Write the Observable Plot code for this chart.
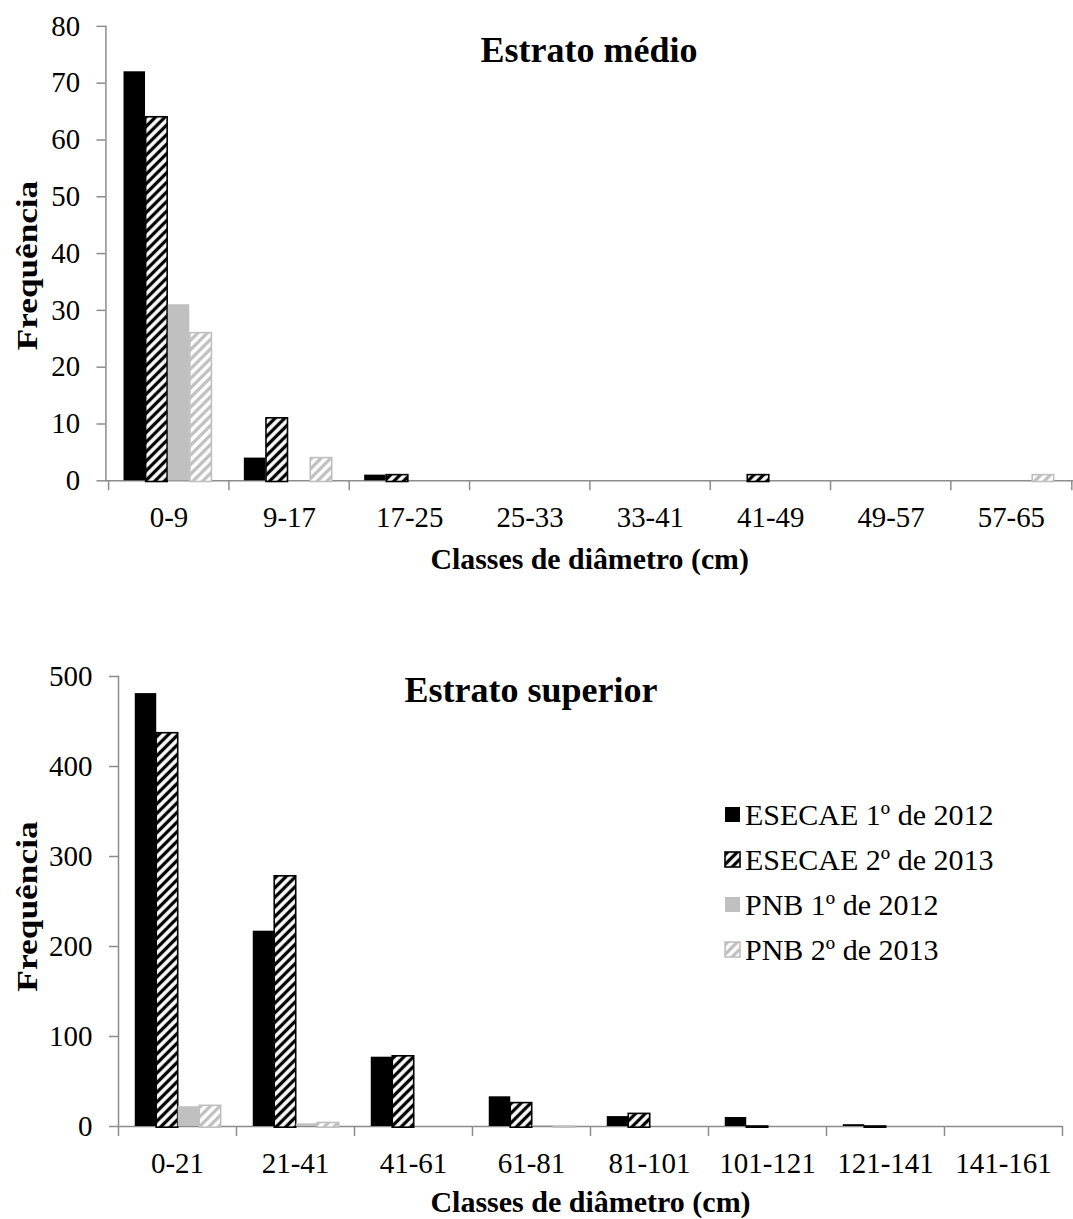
<!DOCTYPE html>
<html><head><meta charset="utf-8">
<script src="https://cdn.jsdelivr.net/npm/d3@7"></script>
<script src="https://cdn.jsdelivr.net/npm/@observablehq/plot@0.6"></script>
<style>
html,body{margin:0;padding:0;background:#fff;overflow:hidden;}
#wrap{position:relative;width:1073px;height:1219px;overflow:hidden;font-family:"Liberation Serif","Times New Roman",serif;color:#000;}
.chart{position:absolute;left:0;}
.title{position:absolute;font-weight:bold;font-size:36px;transform:translate(-50%,-50%);white-space:nowrap;line-height:1;}
.legend{position:absolute;left:724px;top:792px;font-size:30px;}
.legend .row{display:flex;align-items:center;height:45px;white-space:nowrap;}
.legend .row span{display:inline-block;line-height:1;}
</style></head>
<body>
<svg width="0" height="0" style="position:absolute">
  <defs>
    <pattern id="hatchBlack" patternUnits="userSpaceOnUse" width="6.8" height="6.8" patternTransform="rotate(45)">
      <rect width="6.8" height="6.8" fill="#fff"/>
      <line x1="3.4" y1="-1" x2="3.4" y2="7.8" stroke="#000" stroke-width="3.3"/>
    </pattern>
    <pattern id="hatchGray" patternUnits="userSpaceOnUse" width="6.8" height="6.8" patternTransform="rotate(45)">
      <rect width="6.8" height="6.8" fill="#fff"/>
      <line x1="3.4" y1="-1" x2="3.4" y2="7.8" stroke="#c0c0c0" stroke-width="3.3"/>
    </pattern>
  </defs>
</svg>
<div id="wrap"></div>
<script>
// ---------- Data ----------
const seriesNames = ["ESECAE 1º de 2012", "ESECAE 2º de 2013", "PNB 1º de 2012", "PNB 2º de 2013"];

const topCategories = ["0-9", "9-17", "17-25", "25-33", "33-41", "41-49", "49-57", "57-65"];
const topEsecae2012 = [72, 4, 1, null, null, null, null, null];
const topEsecae2013 = [64, 11, 1, null, null, 1, null, null];
const topPnb2012    = [31, null, null, null, null, null, null, null];
const topPnb2013    = [26, 4, null, null, null, null, null, 1];
const topYTicks = [0, 10, 20, 30, 40, 50, 60, 70, 80];

const botCategories = ["0-21", "21-41", "41-61", "61-81", "81-101", "101-121", "121-141", "141-161"];
const botEsecae2012 = [481, 217, 77, 33, 11, 10, 2, null];
const botEsecae2013 = [437, 278, 78, 26, 14, 0, 0, null];
const botPnb2012    = [22, 3, null, 1, null, null, null, null];
const botPnb2013    = [23, 4, null, 0, null, null, null, null];
const botYTicks = [0, 100, 200, 300, 400, 500];

const titles = ["Estrato médio", "Estrato superior"];
const xTitle = "Classes de diâmetro (cm)";
const yTitle = "Frequência";

// ---------- Styles ----------
const seriesStyles = [
  {fill: "#000"},
  {fill: "url(#hatchBlack)", stroke: "#000", strokeWidth: 1.6, insetBottom: -1.2},
  {fill: "#c0c0c0"},
  {fill: "url(#hatchGray)", stroke: "#c0c0c0", strokeWidth: 1.6, insetBottom: -1.2}
];
const axisGray = "#8c8c8c";
const font = "Liberation Serif";
const yTitleStretch = 1.18;

// stretch the rotated y-axis title along its length
function stretchRotated(svg, k) {
  svg.querySelectorAll("text").forEach(t => {
    const tr = t.getAttribute("transform");
    if (tr && /rotate/.test(tr)) t.setAttribute("transform", tr + ` scale(${k},1)`);
  });
}

function makeChart({cats, series, yMax, yTicks, width, height, marginLeft, marginRight, marginTop, marginBottom, gap0, barFrac, yLabelDx, yLabelDy, labelDy, titleDy}) {
  const bw = (width - marginLeft - marginRight) / cats.length;
  const barW = bw * barFrac;
  const barMarks = series.map((vals, i) => {
    const data = cats.map((c, j) => ({cat: c, value: vals[j]})).filter(d => d.value != null);
    const left = gap0 * bw + i * barW;
    return Plot.barY(data, {
      x: "cat", y: "value",
      insetLeft: left, insetRight: bw - left - barW,
      ...seriesStyles[i]
    });
  });
  const svg = Plot.plot({
    width, height, marginLeft, marginRight, marginTop, marginBottom,
    style: {fontFamily: font, fontSize: "29px", color: "#000", background: "transparent", overflow: "visible"},
    x: {domain: cats, paddingInner: 0, paddingOuter: 0, axis: null},
    y: {domain: [0, yMax], axis: null},
    marks: [
      Plot.ruleY([0], {stroke: axisGray, strokeWidth: 1.5}),
      Plot.frame({anchor: "left", stroke: axisGray, strokeWidth: 1.5}),
      Plot.axisY({ticks: yTicks, tickSize: 9, tickPadding: 17, stroke: axisGray, strokeWidth: 1.5, fill: "#000", label: null, fontSize: 29}),
      Plot.axisX({ticks: cats, tickSize: 10, tickFormat: () => "", stroke: axisGray, strokeWidth: 1.5, dx: -bw / 2, label: null}),
      Plot.axisX({ticks: [cats[cats.length - 1]], tickSize: 10, tickFormat: () => "", stroke: axisGray, strokeWidth: 1.5, dx: bw / 2, label: null}),
      ...barMarks,
      Plot.text(cats, {x: d => d, frameAnchor: "bottom", lineAnchor: "middle", dy: labelDy, fontSize: 29, fill: "#000"}),
      Plot.text([xTitle], {frameAnchor: "bottom", lineAnchor: "middle", dy: titleDy, fontSize: 30, fontWeight: "bold", fill: "#000"}),
      Plot.text([yTitle], {frameAnchor: "left", lineAnchor: "middle", textAnchor: "middle", dx: yLabelDx, dy: yLabelDy, rotate: -90, fontSize: 30, fontWeight: "bold", fill: "#000"})
    ]
  });
  stretchRotated(svg, yTitleStretch);
  return svg;
}

const wrap = document.getElementById("wrap");

const topChart = makeChart({
  cats: topCategories,
  series: [topEsecae2012, topEsecae2013, topPnb2012, topPnb2013],
  yMax: 80, yTicks: topYTicks,
  width: 1079, height: 600,
  marginLeft: 106, marginRight: 0, marginTop: 26, marginBottom: 117,
  gap0: 0.125, barFrac: 0.183, yLabelDx: -79, yLabelDy: 12, labelDy: 37, titleDy: 79
});
topChart.classList.add("chart");
topChart.style.top = "0px";
wrap.appendChild(topChart);

const botChart = makeChart({
  cats: botCategories,
  series: [botEsecae2012, botEsecae2013, botPnb2012, botPnb2013],
  yMax: 500, yTicks: botYTicks,
  width: 1073, height: 619,
  marginLeft: 118, marginRight: 11, marginTop: 76, marginBottom: 93,
  gap0: 0.142, barFrac: 0.182, yLabelDx: -91, yLabelDy: 5, labelDy: 37, titleDy: 76
});
botChart.classList.add("chart");
botChart.style.top = "600px";
wrap.appendChild(botChart);

// Titles
[[titles[0], 589, 50], [titles[1], 531, 690]].forEach(([t, x, y]) => {
  const d = document.createElement("div");
  d.className = "title";
  d.textContent = t;
  d.style.left = x + "px";
  d.style.top = y + "px";
  wrap.appendChild(d);
});

// Legend
const legend = document.createElement("div");
legend.className = "legend";
seriesNames.forEach((name, i) => {
  const row = document.createElement("div");
  row.className = "row";
  const s = seriesStyles[i];
  const sw = document.createElementNS("http://www.w3.org/2000/svg", "svg");
  sw.setAttribute("width", 17); sw.setAttribute("height", 17);
  sw.style.marginRight = "4px";
  const r = document.createElementNS("http://www.w3.org/2000/svg", "rect");
  r.setAttribute("x", 1); r.setAttribute("y", 1); r.setAttribute("width", 15); r.setAttribute("height", 15);
  r.setAttribute("fill", s.fill);
  if (s.stroke) { r.setAttribute("stroke", s.stroke); r.setAttribute("stroke-width", 1.6); }
  sw.appendChild(r);
  row.appendChild(sw);
  const tx = document.createElement("span");
  tx.textContent = name;
  row.appendChild(tx);
  legend.appendChild(row);
});
wrap.appendChild(legend);
</script>
</body></html>
